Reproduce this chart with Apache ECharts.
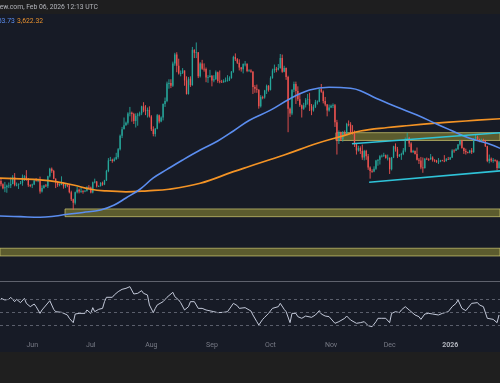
<!DOCTYPE html>
<html><head><meta charset="utf-8">
<script src="https://cdn.jsdelivr.net/npm/echarts@6/dist/echarts.min.js"></script>
<style>html,body{margin:0;padding:0;background:#171b26;overflow:hidden}#c{width:500px;height:383px}</style>
</head><body><div id="c"></div>
<script>
// Daily ETH/USD candles: [open, close, low, high]
const firstDay = [2025, 4, 16]; // 2025-05-16 (month is 0-based)
const candlesMay = [[2600,2545,2510,2640],[2545,2475,2460,2560],[2475,2495,2410,2585],[2495,2520,2400,2540],[2520,2525,2480,2575],[2525,2550,2480,2660],[2550,2665,2545,2700],[2665,2530,2510,2735],[2530,2535,2510,2575],[2535,2550,2465,2560],[2550,2565,2545,2600],[2565,2660,2520,2710],[2660,2680,2600,2700],[2680,2630,2605,2785],[2630,2530,2500,2650],[2530,2525,2495,2545]];
const candlesJun = [[2525,2540,2480,2555],[2540,2610,2530,2620],[2610,2600,2595,2650],[2600,2610,2580,2640],[2610,2420,2385,2675],[2420,2480,2405,2525],[2480,2525,2470,2535],[2525,2510,2500,2550],[2510,2680,2480,2690],[2680,2810,2660,2825],[2810,2770,2740,2830],[2770,2640,2630,2790],[2640,2580,2480,2645],[2580,2530,2500,2590],[2530,2545,2510,2560],[2545,2550,2530,2680],[2550,2510,2470,2580],[2510,2530,2480,2550],[2530,2525,2495,2545],[2525,2410,2390,2540],[2410,2290,2260,2435],[2290,2230,2110,2300],[2230,2410,2200,2420],[2410,2450,2390,2500],[2450,2420,2390,2470],[2420,2425,2400,2490],[2425,2420,2385,2445],[2420,2435,2410,2445],[2435,2500,2420,2510],[2500,2490,2470,2530]];
const candlesJul = [[2490,2405,2390,2505],[2405,2580,2390,2590],[2580,2590,2560,2640],[2590,2510,2490,2600],[2510,2515,2500,2525],[2515,2570,2505,2580],[2570,2540,2520,2590],[2540,2610,2530,2620],[2610,2770,2600,2790],[2770,2950,2750,2990],[2950,2960,2940,3010],[2960,2940,2910,2980],[2940,2970,2930,3000],[2970,3010,2960,3080],[3010,3140,2980,3160],[3140,3370,3120,3390],[3370,3480,3330,3520],[3480,3550,3480,3680],[3550,3590,3540,3610],[3590,3750,3560,3770],[3750,3760,3700,3860],[3760,3740,3610,3780],[3740,3620,3570,3760],[3620,3710,3510,3750],[3710,3730,3540,3760],[3730,3750,3700,3780],[3750,3870,3720,3880],[3870,3800,3770,3940],[3800,3790,3720,3890],[3790,3810,3680,3850],[3810,3700,3680,3870]];
const candlesAug = [[3700,3480,3450,3720],[3480,3400,3360,3530],[3400,3490,3355,3500],[3490,3720,3480,3740],[3720,3610,3580,3730],[3610,3680,3600,3700],[3680,3910,3630,3920],[3910,3960,3860,4020],[3960,4260,3940,4290],[4260,4265,4170,4330],[4265,4220,4180,4330],[4220,4600,4200,4630],[4600,4750,4560,4780],[4750,4560,4450,4790],[4560,4430,4410,4680],[4430,4435,4380,4480],[4435,4480,4420,4520],[4480,4310,4220,4480],[4310,4080,4070,4380],[4080,4340,4070,4370],[4340,4230,4200,4380],[4230,4830,4220,4880],[4830,4780,4690,4840],[4780,4790,4690,4956],[4790,4380,4350,4790],[4380,4600,4360,4620],[4600,4510,4490,4660],[4510,4505,4460,4600],[4505,4360,4280,4530],[4360,4370,4270,4400],[4370,4390,4360,4490]];
const candlesSep = [[4390,4310,4210,4400],[4310,4330,4280,4400],[4330,4450,4320,4480],[4450,4300,4270,4460],[4300,4290,4260,4480],[4290,4280,4270,4320],[4280,4300,4270,4330],[4300,4310,4280,4360],[4310,4320,4290,4400],[4320,4350,4300,4380],[4350,4460,4340,4470],[4460,4710,4440,4730],[4710,4670,4640,4770],[4670,4610,4590,4690],[4610,4530,4480,4670],[4530,4500,4460,4540],[4500,4590,4430,4600],[4590,4595,4550,4640],[4595,4470,4450,4600],[4470,4480,4460,4500],[4480,4460,4440,4500],[4460,4200,4080,4470],[4200,4170,4100,4230],[4170,4150,4100,4240],[4150,3870,3830,4160],[3870,4030,3850,4060],[4030,4020,3990,4050],[4020,4140,4000,4150],[4140,4220,4080,4240],[4220,4150,4120,4230]];
const candlesOct = [[4150,4350,4140,4380],[4350,4480,4340,4510],[4480,4510,4440,4580],[4510,4490,4450,4540],[4490,4520,4480,4590],[4520,4690,4510,4760],[4690,4460,4440,4750],[4460,4520,4450,4560],[4520,4370,4320,4530],[4370,3830,3430,4390],[3830,3750,3690,3850],[3750,4150,3720,4160],[4150,4250,4110,4290],[4250,4130,3910,4290],[4130,3990,3960,4210],[3990,3890,3860,4100],[3890,3830,3680,3900],[3830,3890,3810,3930],[3890,3980,3850,4010],[3980,3990,3900,4080],[3990,3880,3790,4100],[3880,3800,3720,3910],[3800,3860,3780,3900],[3860,3940,3840,3980],[3940,3950,3900,3970],[3950,4160,3940,4170],[4160,4120,4100,4250],[4120,3960,3920,4140],[3960,3900,3870,4030],[3900,3800,3700,3910],[3800,3850,3780,3900]];
const candlesNov = [[3850,3880,3840,3900],[3880,3890,3840,3920],[3890,3600,3520,3910],[3600,3290,3050,3640],[3290,3420,3230,3460],[3420,3310,3280,3440],[3310,3420,3270,3450],[3420,3400,3370,3460],[3400,3570,3390,3590],[3570,3560,3530,3630],[3560,3420,3410,3600],[3420,3410,3390,3550],[3410,3230,3180,3460],[3230,3120,3050,3240],[3120,3160,3100,3200],[3160,3110,3060,3190],[3110,3000,2960,3220],[3000,3110,2950,3130],[3110,3020,2960,3130],[3020,2830,2790,3060],[2830,2770,2640,2850],[2770,2760,2740,2800],[2760,2810,2750,2850],[2810,2950,2790,2960],[2950,2960,2860,2970],[2960,3020,2880,3040],[3020,3030,3000,3050],[3030,3040,3010,3080],[3040,2990,2980,3050],[2990,2995,2950,3050]];
const candlesDec = [[2995,2800,2720,3000],[2800,3000,2780,3010],[3000,3190,2990,3200],[3190,3140,3100,3240],[3140,3020,2990,3180],[3020,3040,3010,3060],[3040,3060,2960,3080],[3060,3120,3040,3160],[3120,3320,3090,3340],[3320,3330,3300,3420],[3330,3240,3180,3350],[3240,3090,3080,3260],[3090,3110,3080,3130],[3110,3060,3050,3120],[3060,2960,2950,3170],[2960,2950,2890,2990],[2950,2830,2800,3010],[2830,2820,2740,3000],[2820,2980,2810,2990],[2980,2975,2960,3000],[2975,2970,2940,2990],[2970,3000,2960,3060],[3000,2960,2930,3020],[2960,2950,2920,2970],[2950,2920,2910,2960],[2920,2930,2890,2990],[2930,2950,2920,2960],[2950,2945,2940,2960],[2945,2940,2920,3040],[2940,2970,2930,2990],[2970,2965,2960,3010]];
const candlesJan = [[2965,3000,2960,3010],[3000,3120,2990,3140],[3120,3115,3080,3140],[3115,3140,3110,3160],[3140,3220,3130,3230],[3220,3290,3200,3300],[3290,3160,3150,3300],[3160,3110,3060,3170],[3110,3090,3050,3150],[3090,3080,3070,3100],[3080,3120,3070,3130],[3120,3090,3060,3160],[3090,3320,3080,3330],[3320,3350,3300,3400],[3350,3310,3280,3370],[3310,3290,3260,3320],[3290,3300,3280,3320],[3300,3290,3270,3320],[3290,3190,3180,3300],[3190,2940,2920,3200],[2940,2980,2900,3050],[2980,2950,2920,3000],[2950,2955,2910,2990],[2955,2945,2930,2970],[2945,2820,2780,2960],[2820,2920,2810,2940]];

// Moving averages: [day index, price]
const sma100Points = [[-1,2006],[10,1994],[20,1984],[28,2006],[33,2031],[42,2066],[51,2108],[58,2193],[64,2312],[71,2456],[78,2652],[85,2797],[93,2958],[102,3128],[111,3281],[119,3451],[127,3630],[138,3805],[148,4000],[158,4148],[168,4194],[179,4177],[184,4136],[192,4007],[203,3854],[213,3723],[223,3570],[230,3468],[240,3327],[249,3242],[256,3150]];
const sma200Points = [[-1,2650],[10,2635],[20,2618],[28,2589],[37,2533],[46,2460],[54,2431],[64,2417],[75,2434],[86,2460],[102,2562],[119,2759],[127,2847],[145,3043],[162,3242],[174,3357],[184,3451],[198,3510],[209,3544],[221,3579],[238,3621],[256,3660]];

// Channel lines: [day index, price]
const channelUpper = [[179.7,3232],[256,3420]];
const channelLower = [[188.5,2579],[256,2774]];

// Horizontal zones: start day, top price, bottom price
const zoneStart = [32.8, -1, 171.5];
const zoneTop = [2125, 1457, 3422];
const zoneBottom = [1994, 1326, 3290];

// RSI(14): [day index, value]
const rsiPoints = [[0,71.0],[2,68.5],[4,69.5],[5,72.6],[7,65.9],[8,69.5],[10,64.4],[12,71.0],[13,63.3],[15,58.2],[17,62.3],[18,58.2],[20,47.9],[21,53.1],[22,54.6],[25,67.4],[27,54.1],[28,50.5],[31,49.5],[34,45.4],[35,40.3],[37,33.6],[38,46.9],[40,47.9],[43,47.9],[44,53.1],[46,47.9],[47,56.7],[48,50.5],[50,54.1],[52,55.6],[53,65.9],[54,72.6],[57,72.6],[58,76.2],[60,81.3],[62,84.9],[64,86.4],[66,89.0],[67,86.4],[68,77.7],[70,78.7],[71,79.7],[72,82.8],[73,78.7],[75,76.2],[76,60.8],[78,49.0],[79,55.6],[80,60.8],[81,58.2],[83,65.9],[85,72.6],[86,74.6],[88,80.3],[89,73.6],[91,68.5],[92,64.4],[94,53.1],[96,58.2],[97,65.9],[99,65.9],[101,55.6],[103,55.6],[105,53.1],[109,50.5],[110,53.1],[111,49.0],[114,49.5],[116,50.5],[119,63.3],[121,59.7],[122,55.6],[125,56.7],[128,51.5],[129,45.4],[131,35.1],[132,30.0],[134,38.7],[135,41.8],[137,47.9],[139,55.6],[140,55.6],[142,58.2],[143,63.3],[145,54.1],[146,50.5],[148,33.6],[149,47.9],[151,47.9],[152,42.8],[154,40.3],[156,43.8],[157,45.4],[159,41.8],[161,45.4],[163,52.1],[164,46.9],[166,43.8],[168,42.8],[169,45.4],[171,32.6],[173,35.1],[174,35.1],[176,40.3],[177,43.8],[179,37.7],[180,35.1],[182,32.6],[184,33.6],[186,35.1],[187,32.6],[188,29.0],[190,27.4],[192,35.1],[193,40.3],[195,40.3],[197,40.3],[198,37.7],[199,33.6],[200,47.9],[202,50.5],[204,49.0],[205,53.1],[207,58.2],[209,53.1],[210,50.5],[212,45.4],[214,42.8],[215,38.7],[217,46.9],[219,47.9],[221,46.9],[222,45.4],[224,45.4],[226,47.9],[227,46.4],[229,50.5],[231,58.2],[233,63.3],[234,68.5],[236,55.6],[238,52.1],[239,53.1],[241,63.3],[242,65.9],[244,64.4],[245,60.8],[247,58.2],[249,40.3],[250,40.3],[252,38.7],[254,33.6],[255,45.4]];
const rsiLevels = [70, 50, 30];

const monthLabels = ['Jan','Feb','Mar','Apr','May','Jun','Jul','Aug','Sep','Oct','Nov','Dec'];
const headerText = 'TradingView.com, Feb 06, 2026 12:13 UTC';
const legendSma100 = '53.73';
const legendSma200 = '3,622.32';

const ohlc = [].concat(candlesMay, candlesJun, candlesJul, candlesAug, candlesSep, candlesOct, candlesNov, candlesDec, candlesJan);
const N = ohlc.length;
const dates = ohlc.map((_, i) => new Date(Date.UTC(firstDay[0], firstDay[1], firstDay[2] + i)).toISOString().slice(0, 10));

const UP = '#26a69a', DOWN = '#ef5350';
const FONT = 'Roboto, "Noto Sans", sans-serif';

function renderCandle(params, api) {
  const i = api.value(0), o = api.value(1), c = api.value(2), l = api.value(3), h = api.value(4);
  const pO = api.coord([i, o]), pC = api.coord([i, c]), pL = api.coord([i, l]), pH = api.coord([i, h]);
  const x = pO[0];
  const col = c >= o ? UP : DOWN;
  const top = Math.min(pO[1], pC[1]);
  const bh = Math.max(Math.abs(pO[1] - pC[1]), 0.8);
  const bw = 1.35;
  return {type: 'group', children: [
    {type: 'line', shape: {x1: x, y1: pH[1], x2: x, y2: pL[1]}, style: {stroke: col, lineWidth: 0.9}},
    {type: 'rect', shape: {x: x - bw / 2, y: top, width: bw, height: bh}, style: {fill: col}}
  ]};
}

const chart = echarts.init(document.getElementById('c'), null, {renderer: 'canvas'});
chart.setOption({
  animation: false,
  backgroundColor: '#171b26',
  grid: [
    {left: 0, width: 500, top: 14, height: 267},
    {left: 0, width: 500, top: 279.5, height: 65}
  ],
  xAxis: [
    {type: 'category', gridIndex: 0, data: dates, boundaryGap: true,
      axisLine: {show: true, onZero: false, lineStyle: {color: '#5f626d', width: 1}},
      axisTick: {show: false}, axisLabel: {show: false}, splitLine: {show: false}},
    {type: 'value', gridIndex: 0, min: -0.5, max: N - 0.5, show: false},
    {type: 'category', gridIndex: 1, data: dates, boundaryGap: true,
      axisLine: {show: false}, axisTick: {show: false}, splitLine: {show: false},
      axisLabel: {
        show: true, margin: -3, fontSize: 7, color: '#787b86', fontFamily: FONT,
        interval: (idx, val) => val.slice(8) === '01',
        formatter: (val) => { const m = +val.slice(5, 7); return m === 1 ? '{y|' + val.slice(0, 4) + '}' : monthLabels[m - 1]; },
        rich: {y: {fontSize: 7, fontWeight: 'bold', color: '#b2b5be', fontFamily: FONT}}
      }},
    {type: 'value', gridIndex: 1, min: -0.5, max: N - 0.5, show: false}
  ],
  yAxis: [
    {type: 'value', gridIndex: 0, min: 900, max: 5440, show: false},
    {type: 'value', gridIndex: 1, min: 0, max: 100, show: false}
  ],
  graphic: [
    {type: 'rect', shape: {x: 0, y: 0, width: 500, height: 14}, style: {fill: '#1e1e1f'}, z: 100},
    {type: 'rect', shape: {x: 0, y: 352, width: 500, height: 31}, style: {fill: '#1f1f1f'}, z: 100},
    {type: 'text', x: 98, y: 7.5, z: 101, style: {text: headerText, align: 'right', verticalAlign: 'middle', fill: '#b4b6bc', font: '6.8px ' + FONT}},
    {type: 'text', x: 14.8, y: 21.5, z: 101, style: {text: legendSma100, align: 'right', verticalAlign: 'middle', fill: '#5b8def', font: '6.8px ' + FONT}},
    {type: 'text', x: 17, y: 21.5, z: 101, style: {text: legendSma200, align: 'left', verticalAlign: 'middle', fill: '#e8912e', font: '6.8px ' + FONT}}
  ],
  series: [
    {type: 'custom', xAxisIndex: 0, yAxisIndex: 0, z: 2, renderItem: renderCandle,
      encode: {x: 0, y: [1, 2, 3, 4]},
      data: ohlc.map((r, i) => [i, r[0], r[1], r[2], r[3]])},
    {type: 'line', xAxisIndex: 1, yAxisIndex: 0, data: [], z: 3, silent: true,
      markArea: {silent: true,
        itemStyle: {color: 'rgba(150,146,52,0.55)', borderColor: 'rgba(200,195,110,0.75)', borderWidth: 1},
        data: zoneStart.map((s, k) => [{xAxis: s, yAxis: zoneTop[k]}, {xAxis: N + 1, yAxis: zoneBottom[k]}])}},
    {type: 'line', xAxisIndex: 1, yAxisIndex: 0, data: sma200Points, smooth: 0.4, showSymbol: false, z: 4,
      lineStyle: {color: '#f39325', width: 1.7}},
    {type: 'line', xAxisIndex: 1, yAxisIndex: 0, data: sma100Points, smooth: 0.4, showSymbol: false, z: 4,
      lineStyle: {color: '#5b8def', width: 1.6}},
    {type: 'line', xAxisIndex: 1, yAxisIndex: 0, data: channelUpper, showSymbol: false, z: 5,
      lineStyle: {color: '#2fc3d8', width: 1.5}},
    {type: 'line', xAxisIndex: 1, yAxisIndex: 0, data: channelLower, showSymbol: false, z: 5,
      lineStyle: {color: '#2fc3d8', width: 1.5}},
    {type: 'line', xAxisIndex: 3, yAxisIndex: 1, data: rsiPoints, showSymbol: false, z: 4,
      lineStyle: {color: '#c3c9d9', width: 1},
      markLine: {silent: true, symbol: 'none', label: {show: false},
        lineStyle: {color: '#5b5f6c', type: [3, 3], width: 1},
        data: rsiLevels.map(v => ({yAxis: v}))}}
  ]
});
</script></body></html>
